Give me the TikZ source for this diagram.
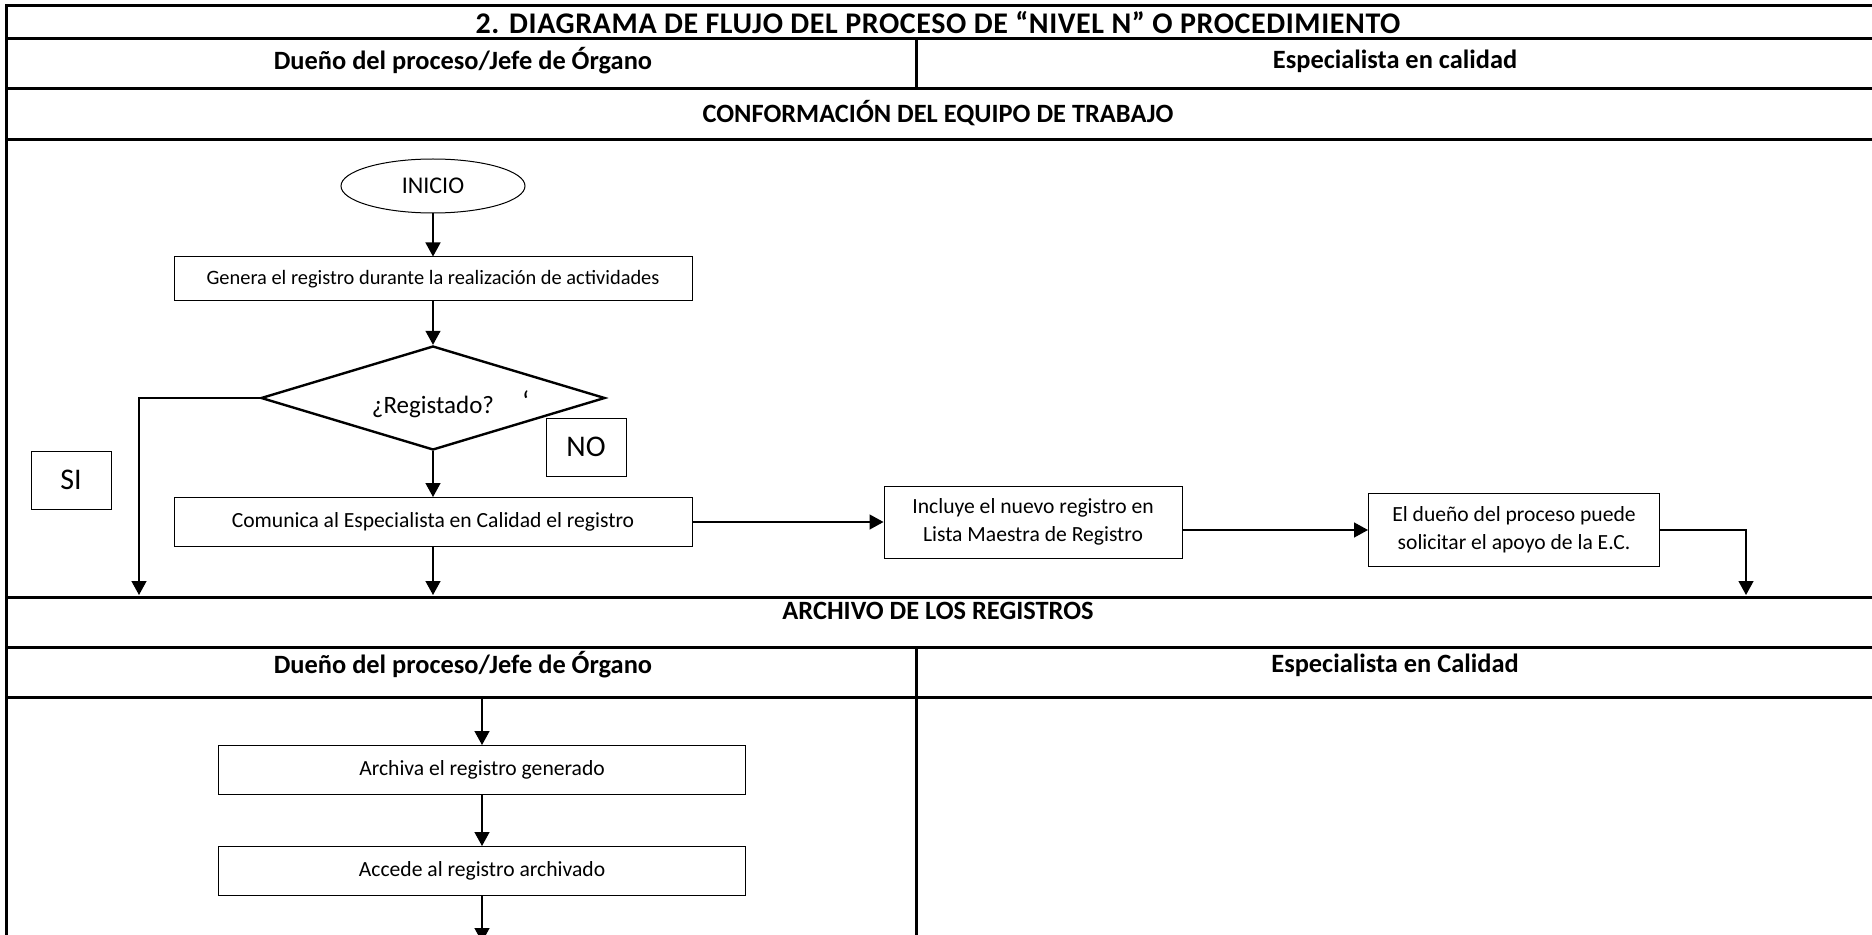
\documentclass[tikz,border=0pt]{standalone}
\usepackage{fontspec}
\setmainfont{Carlito}
\usetikzlibrary{arrows.meta,positioning,shapes.geometric}

\tikzset{
  marco/.style={line width=1.5pt,line cap=rect},
  titulo/.style={font=\bfseries\fontsize{13.2}{15}\selectfont},
  caja/.style={draw,line width=0.5pt,align=center,inner sep=2pt,font=\fontsize{10.8}{14}\selectfont},
  letra/.style={caja,minimum width=40pt,minimum height=29pt,font=\fontsize{15}{17}\selectfont},
  flecha/.style={-{Triangle[length=7pt,width=7.5pt]},line width=0.7pt},
}

\begin{document}
\begin{tikzpicture}[x=0.5pt,y=-0.5pt]
  \useasboundingbox (0,0) rectangle (1872,935);
  \foreach \y in {6,39,89,140,597,647,697}{
    \draw[marco] (6,\y) -- (1880,\y);
  }
  \draw[marco] (6,6) -- (6,940);
  \draw[marco] (916,39) -- (916,89);
  \draw[marco] (916,647) -- (916,940);

  \node[titulo,font=\bfseries\fontsize{15}{17}\selectfont\addfontfeature{LetterSpace=2}] (cab) at (938,23) {2. DIAGRAMA DE FLUJO DEL PROCESO DE “NIVEL N” O PROCEDIMIENTO};
  \node[titulo] (duenoA) at (463,61) {Dueño del proceso/Jefe de Órgano};
  \node[titulo] (espA) at (1395,61) {Especialista en calidad};
  \node[titulo] (etapaA) at (938,113) {CONFORMACIÓN DEL EQUIPO DE TRABAJO};
  \node[titulo] (etapaB) at (938,611) {ARCHIVO DE LOS REGISTROS};
  \node[titulo] (duenoB) at (463,665) {Dueño del proceso/Jefe de Órgano};
  \node[titulo] (espB) at (1395,665) {Especialista en Calidad};

  \node[draw,ellipse,line width=0.5pt,minimum width=92pt,minimum height=27pt,font=\fontsize{12}{14}\selectfont] (inicio) at (433,186) {INICIO};
  \node[caja,minimum width=259pt,minimum height=22pt,font=\fontsize{10.2}{13}\selectfont] (genera) at (433,279) {Genera el registro durante la realización de actividades};
  \node[draw,diamond,aspect=3.3,line width=1.2pt,minimum width=172pt,minimum height=52pt,inner sep=0pt,font=\fontsize{12.5}{14}\selectfont] (registro) at (433,398)
    {\raisebox{0pt}[\dimexpr\height+6pt][\depth]{¿Registado?\rlap{\hspace{14pt}\raisebox{1pt}{\Large ‘}}}};
  \node[letra] (no) at (586,447) {NO};
  \node[letra] (si) at (71,480) {SI};
  \node[caja,minimum width=259pt,minimum height=24.5pt] (comunica) at (433,522) {Comunica al Especialista en Calidad el registro};
  \node[caja,minimum width=149pt,minimum height=36pt] (incluye) at (1033,522) {Incluye el nuevo registro en\\Lista Maestra de Registro};
  \node[caja,minimum width=145.5pt,minimum height=36.5pt] (apoyo) at (1514,530) {El dueño del proceso puede\\solicitar el apoyo de la E.C.};
  \node[caja,minimum width=263.5pt,minimum height=24.5pt] (archiva) at (482,770) {Archiva el registro generado};
  \node[caja,minimum width=263.5pt,minimum height=24.5pt] (accede) at (482,871) {Accede al registro archivado};

  \coordinate (finsi) at (139,595);
  \coordinate (finno) at (433,595);
  \coordinate (finec) at (1746,595);
  \coordinate (iniarch) at (482,697);
  \coordinate (finarch) at (482,942);

  \draw[flecha] (inicio) -- (genera);
  \draw[flecha] (genera) -- (registro);
  \draw[flecha] (registro) -- (comunica);
  \draw[flecha] (registro.west) -| (finsi);
  \draw[flecha] (comunica) -- (finno);
  \draw[flecha] (comunica) -- (incluye);
  \draw[flecha] (incluye.east |- apoyo) -- (apoyo);
  \draw[flecha] (apoyo.east) -| (finec);
  \draw[flecha] (iniarch) -- (archiva);
  \draw[flecha] (archiva) -- (accede);
  \draw[flecha] (accede) -- (finarch);
\end{tikzpicture}
\end{document}
